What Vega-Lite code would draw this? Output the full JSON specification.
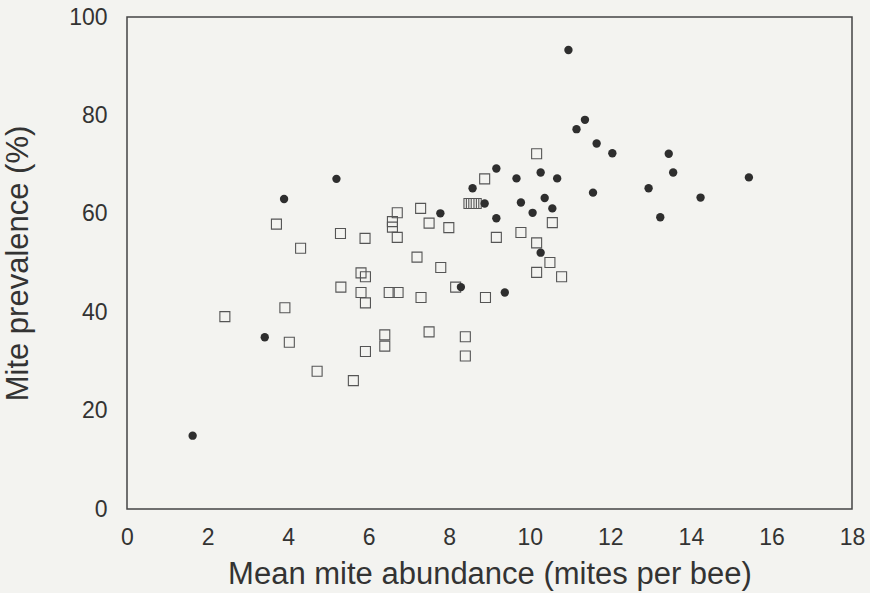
{
  "$schema": "https://vega.github.io/schema/vega-lite/v6.json",
  "autosize": {"type": "none"},
  "width": 725,
  "height": 492,
  "padding": {"left": 127, "top": 17, "right": 18, "bottom": 84},
  "background": "#f3f3f0",
  "config": {
    "view": {"stroke": "#444444", "strokeWidth": 1.5},
    "font": "Liberation Sans",
    "axis": {
      "grid": false, "ticks": false, "domain": false,
      "labelFont": "Liberation Sans", "labelFontSize": 23, "labelColor": "#333333",
      "titleFont": "Liberation Sans", "titleFontSize": 31, "titleFontWeight": "normal", "titleColor": "#333333"
    }
  },
  "data": {"values": [
    {"group": "filled", "x": 5.20, "y": 67.1},
    {"group": "filled", "x": 3.90, "y": 63.0},
    {"group": "filled", "x": 3.42, "y": 34.9},
    {"group": "filled", "x": 1.63, "y": 14.9},
    {"group": "filled", "x": 11.16, "y": 77.2},
    {"group": "filled", "x": 11.37, "y": 79.1},
    {"group": "filled", "x": 11.66, "y": 74.3},
    {"group": "filled", "x": 12.05, "y": 72.3},
    {"group": "filled", "x": 9.17, "y": 69.2},
    {"group": "filled", "x": 9.67, "y": 67.2},
    {"group": "filled", "x": 10.27, "y": 68.4},
    {"group": "filled", "x": 10.68, "y": 67.2},
    {"group": "filled", "x": 11.57, "y": 64.3},
    {"group": "filled", "x": 8.58, "y": 65.2},
    {"group": "filled", "x": 8.88, "y": 62.1},
    {"group": "filled", "x": 9.78, "y": 62.3},
    {"group": "filled", "x": 10.37, "y": 63.2},
    {"group": "filled", "x": 10.07, "y": 60.2},
    {"group": "filled", "x": 10.56, "y": 61.1},
    {"group": "filled", "x": 7.78, "y": 60.1},
    {"group": "filled", "x": 9.17, "y": 59.1},
    {"group": "filled", "x": 10.27, "y": 52.1},
    {"group": "filled", "x": 8.29, "y": 45.1},
    {"group": "filled", "x": 9.38, "y": 44.0},
    {"group": "filled", "x": 13.45, "y": 72.2},
    {"group": "filled", "x": 13.56, "y": 68.4},
    {"group": "filled", "x": 12.95, "y": 65.2},
    {"group": "filled", "x": 14.24, "y": 63.3},
    {"group": "filled", "x": 13.24, "y": 59.3},
    {"group": "filled", "x": 15.44, "y": 67.4},
    {"group": "filled", "x": 10.96, "y": 93.3},
    {"group": "open", "x": 3.71, "y": 57.9},
    {"group": "open", "x": 5.30, "y": 56.0},
    {"group": "open", "x": 5.91, "y": 55.0},
    {"group": "open", "x": 4.31, "y": 53.0},
    {"group": "open", "x": 5.81, "y": 48.0},
    {"group": "open", "x": 5.92, "y": 47.2},
    {"group": "open", "x": 5.31, "y": 45.1},
    {"group": "open", "x": 5.81, "y": 44.0},
    {"group": "open", "x": 5.92, "y": 41.9},
    {"group": "open", "x": 3.92, "y": 40.9},
    {"group": "open", "x": 2.43, "y": 39.1},
    {"group": "open", "x": 4.03, "y": 33.9},
    {"group": "open", "x": 5.92, "y": 32.0},
    {"group": "open", "x": 4.72, "y": 28.0},
    {"group": "open", "x": 5.62, "y": 26.1},
    {"group": "open", "x": 10.17, "y": 72.2},
    {"group": "open", "x": 8.88, "y": 67.1},
    {"group": "open", "x": 8.49, "y": 62.1},
    {"group": "open", "x": 8.55, "y": 62.1},
    {"group": "open", "x": 8.61, "y": 62.1},
    {"group": "open", "x": 8.67, "y": 62.1},
    {"group": "open", "x": 6.71, "y": 60.2},
    {"group": "open", "x": 7.29, "y": 61.1},
    {"group": "open", "x": 6.59, "y": 58.4},
    {"group": "open", "x": 6.59, "y": 57.3},
    {"group": "open", "x": 6.71, "y": 55.2},
    {"group": "open", "x": 7.50, "y": 58.1},
    {"group": "open", "x": 7.99, "y": 57.2},
    {"group": "open", "x": 9.17, "y": 55.2},
    {"group": "open", "x": 9.78, "y": 56.2},
    {"group": "open", "x": 10.56, "y": 58.2},
    {"group": "open", "x": 10.17, "y": 54.1},
    {"group": "open", "x": 10.50, "y": 50.1},
    {"group": "open", "x": 10.17, "y": 48.1},
    {"group": "open", "x": 10.79, "y": 47.2},
    {"group": "open", "x": 7.20, "y": 51.2},
    {"group": "open", "x": 7.79, "y": 49.1},
    {"group": "open", "x": 8.16, "y": 45.1},
    {"group": "open", "x": 6.51, "y": 44.0},
    {"group": "open", "x": 6.73, "y": 44.0},
    {"group": "open", "x": 7.30, "y": 43.0},
    {"group": "open", "x": 8.90, "y": 43.0},
    {"group": "open", "x": 6.40, "y": 35.4},
    {"group": "open", "x": 6.40, "y": 33.1},
    {"group": "open", "x": 7.50, "y": 36.0},
    {"group": "open", "x": 8.40, "y": 35.0},
    {"group": "open", "x": 8.40, "y": 31.1}
  ]},
  "encoding": {
    "x": {"field": "x", "type": "quantitative",
      "scale": {"domain": [0, 18], "nice": false, "zero": false},
      "axis": {"values": [0, 2, 4, 6, 8, 10, 12, 14, 16, 18], "labelPadding": 17, "titlePadding": 10,
               "title": "Mean mite abundance (mites per bee)", "labelFlush": false}},
    "y": {"field": "y", "type": "quantitative",
      "scale": {"domain": [0, 100], "nice": false},
      "axis": {"values": [0, 20, 40, 60, 80, 100], "labelPadding": 20, "titlePadding": 34,
               "title": "Mite prevalence (%)", "labelFlush": false}}
  },
  "layer": [
    {
      "transform": [{"filter": "datum.group === 'open'"}],
      "mark": {"type": "point", "shape": "square", "filled": false, "size": 100, "stroke": "#555555", "strokeWidth": 1.1, "opacity": 1}
    },
    {
      "transform": [{"filter": "datum.group === 'filled'"}],
      "mark": {"type": "circle", "size": 70, "color": "#2e2e2e", "opacity": 1}
    }
  ]
}
